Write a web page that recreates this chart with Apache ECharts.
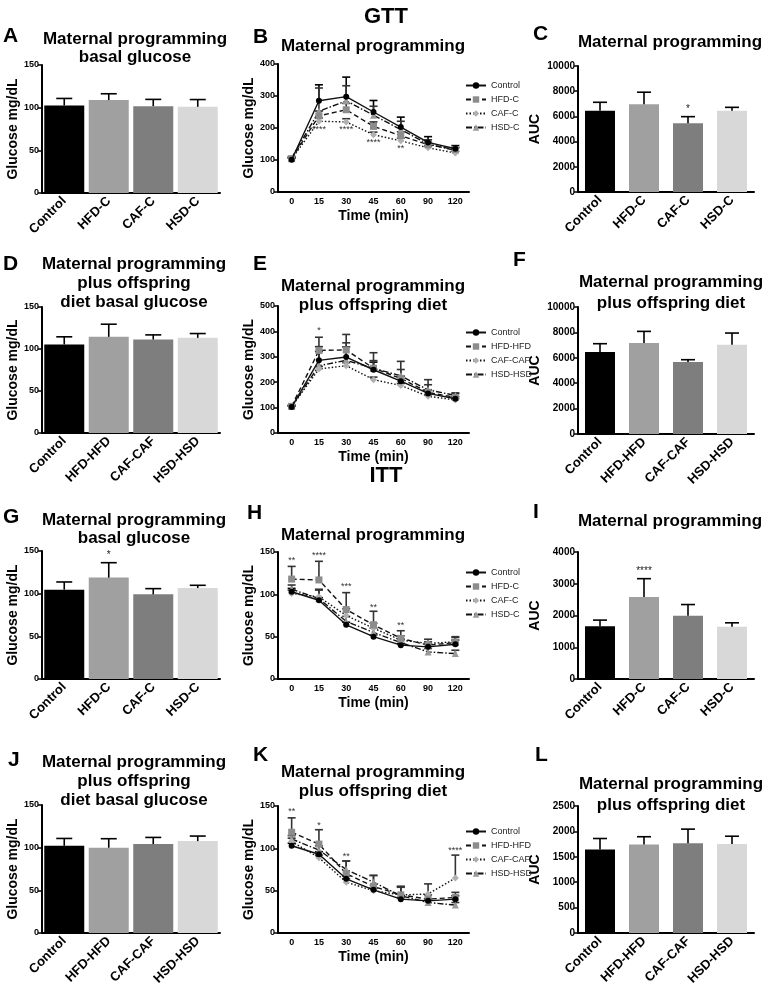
<!DOCTYPE html>
<html>
<head>
<meta charset="utf-8">
<script src="https://cdn.jsdelivr.net/npm/echarts@6/dist/echarts.min.js"></script>
<style>
  html, body { margin: 0; padding: 0; background: #fff; }
  #chart { width: 772px; height: 992px; }
</style>
</head>
<body>
<div id="chart"></div>
<script>
// ---- categories ----
const groupsC = ['Control', 'HFD-C', 'CAF-C', 'HSD-C'];
const groupsD = ['Control', 'HFD-HFD', 'CAF-CAF', 'HSD-HSD'];
const times = ['0', '15', '30', '45', '60', '90', '120'];

// ---- GTT: basal glucose (A, D) and AUC (C, F) ----
const aMean = [102.6, 108.9, 101.8, 101.0];
const aSd = [8.2, 7.4, 7.9, 8.5];
const aStars = ['', '', '', ''];
const dMean = [105.4, 114.5, 111.3, 113.3];
const dSd = [9.1, 15.0, 5.5, 5.1];
const dStars = ['', '', '', ''];
const cMean = [6450, 6960, 5450, 6450];
const cSd = [670, 960, 530, 270];
const cStars = ['', '', '*', ''];
const fMean = [6450, 7160, 5670, 7030];
const fSd = [660, 920, 180, 920];
const fStars = ['', '', '', ''];

// ---- GTT curves (B, E) ----
const bControl = [101, 285, 298, 250, 203, 155, 135];
const bHfd = [104, 238, 257, 205, 176, 148, 133];
const bCaf = [103, 221, 219, 179, 160, 138, 122];
const bHsd = [106, 252, 285, 240, 195, 150, 130];
const bControlSd = [5, 50, 61, 36, 31, 18, 10];
const bHfdSd = [4, 15, 20, 14, 12, 8, 6];
const bCafSd = [4, 10, 10, 8, 8, 6, 5];
const bHsdSd = [5, 73, 47, 28, 26, 13, 8];
const bStars = ['', '****', '****', '****', '**', '', ''];
const bStarAt = [0, 195, 195, 155, 137, 0, 0];

const eControl = [102, 286, 299, 249, 204, 156, 135];
const eHfd = [105, 325, 327, 255, 215, 160, 140];
const eCaf = [103, 252, 265, 210, 187, 145, 130];
const eHsd = [104, 265, 286, 255, 225, 170, 148];
const eControlSd = [4, 35, 40, 30, 20, 14, 8];
const eHfdSd = [5, 52, 61, 61, 67, 50, 15];
const eCafSd = [3, 10, 12, 10, 8, 6, 5];
const eHsdSd = [4, 75, 69, 30, 25, 20, 10];
const eStars = ['', '*', '', '', '', '', ''];
const eStarAt = [0, 405, 0, 0, 0, 0, 0];

// ---- ITT: basal glucose (G, J) and AUC (I, L) ----
const gMean = [104.7, 118.8, 99.2, 106.6];
const gSd = [9.0, 17.5, 6.7, 3.2];
const gStars = ['', '*', '', ''];
const jMean = [102.2, 99.9, 104.2, 107.7];
const jSd = [8.6, 10.6, 7.8, 5.9];
const jStars = ['', '', '', ''];
const iMean = [1665, 2585, 1990, 1645];
const iSd = [190, 575, 355, 125];
const iStars = ['', '****', '', ''];
const lMean = [1645, 1740, 1765, 1750];
const lSd = [215, 155, 280, 155];
const lStars = ['', '', '', ''];

// ---- ITT curves (H, K) ----
const hControl = [103, 93, 64, 50, 40, 38, 41];
const hHfd = [118, 117, 82, 64, 48, 40, 43];
const hCaf = [101, 97, 75, 60, 46, 42, 44];
const hHsd = [106, 95, 68, 55, 43, 32, 30];
const hControlSd = [4, 3, 3, 2, 2, 3, 5];
const hHfdSd = [15, 22, 20, 16, 9, 4, 7];
const hCafSd = [4, 8, 8, 6, 5, 5, 5];
const hHsdSd = [5, 11, 6, 5, 4, 4, 4];
const hStars = ['**', '****', '***', '**', '**', '', ''];
const hStarAt = [140, 146, 109, 85, 63, 0, 0];

const kControl = [103, 93, 64, 51, 40, 38, 40];
const kHfd = [119, 105, 70, 55, 45, 40, 42];
const kCaf = [108, 89, 60, 50, 45, 46, 65];
const kHsd = [111, 98, 75, 60, 44, 36, 33];
const kControlSd = [3, 3, 3, 2, 2, 2, 4];
const kHfdSd = [17, 17, 15, 13, 10, 5, 6];
const kCafSd = [4, 3, 4, 3, 10, 12, 27];
const kHsdSd = [4, 5, 10, 8, 10, 4, 3];
const kStars = ['**', '*', '**', '', '', '', '****'];
const kStarAt = [143, 127, 90, 0, 0, 0, 97];

// ---- styles ----
const FONT = '"Liberation Sans", Arial, sans-serif';
const barColors = ['#000000', '#a0a0a0', '#7e7e7e', '#d8d8d8'];
const markColors = ['#000000', '#8c8c8c', '#b0b0b0', '#9a9a9a'];
const lineTypes = ['solid', [5, 3], [1.5, 2], [6, 2, 1.5, 2]];
const symbols = ['circle', 'rect', 'diamond', 'triangle'];

const chart = echarts.init(document.getElementById('chart'));
const grids = [], xAxes = [], yAxes = [], series = [], legends = [], graphics = [];

function addAxes(p, cats, isLine) {
    const i = grids.length;
    grids.push(p.grid);
    xAxes.push({
        type: 'category', gridIndex: i, data: cats, boundaryGap: true,
        axisLine: { lineStyle: { color: '#000', width: 2 } },
        axisTick: { alignWithLabel: true, length: 4, lineStyle: { color: '#000', width: 1.5 } },
        axisLabel: isLine
            ? { fontSize: 9, fontWeight: 'bold', color: '#000', margin: 5, fontFamily: FONT }
            : { fontSize: 13, fontWeight: 'bold', color: '#000', margin: 6, rotate: 45, fontFamily: FONT },
        name: isLine ? 'Time (min)' : '', nameLocation: 'middle', nameGap: 17,
        nameTextStyle: { fontSize: 14, fontWeight: 'bold', color: '#000', fontFamily: FONT }
    });
    yAxes.push({
        type: 'value', gridIndex: i, min: 0, max: p.max, interval: p.step,
        splitLine: { show: false },
        axisLine: { show: true, lineStyle: { color: '#000', width: 2 } },
        axisTick: { show: true, length: 4, lineStyle: { color: '#000', width: 1.5 } },
        axisLabel: { fontSize: p.tick, fontWeight: 'bold', color: '#000', margin: 3, fontFamily: FONT,
                     formatter: v => String(v) },
        name: p.yName, nameLocation: 'middle', nameGap: p.nameGap,
        nameTextStyle: { fontSize: 14, fontWeight: 'bold', color: '#000', fontFamily: FONT }
    });
    return i;
}

// error bars (mean -> mean + SD with cap) through the axes' own coordinates
function errorSeries(i, mean, sd, color, cap, stars) {
    return {
        type: 'custom', xAxisIndex: i, yAxisIndex: i, silent: true, z: 4,
        data: mean.map((m, k) => [k, m, m + sd[k]]),
        renderItem: (params, api) => {
            const base = api.coord([api.value(0), api.value(1)]);
            const top = api.coord([api.value(0), api.value(2)]);
            const kids = [
                { type: 'line', shape: { x1: base[0], y1: base[1], x2: top[0], y2: top[1] }, style: { stroke: color, lineWidth: 1.6 } },
                { type: 'line', shape: { x1: top[0] - cap / 2, y1: top[1], x2: top[0] + cap / 2, y2: top[1] }, style: { stroke: color, lineWidth: 1.6 } }
            ];
            const s = stars && stars[params.dataIndex];
            if (s) kids.push({ type: 'text', x: top[0], y: top[1] - 2,
                style: { text: s, fill: '#222', fontSize: 10, fontFamily: FONT, align: 'center', verticalAlign: 'bottom' } });
            return { type: 'group', children: kids };
        }
    };
}

function starSeries(i, stars, at) {
    return {
        type: 'custom', xAxisIndex: i, yAxisIndex: i, silent: true, z: 6,
        data: stars.map((s, k) => [k, at[k]]).filter((d, k) => stars[k]),
        renderItem: (params, api) => {
            const pt = api.coord([api.value(0), api.value(1)]);
            const k = api.value(0);
            return { type: 'text', x: pt[0], y: pt[1],
                style: { text: stars[k], fill: '#333', fontSize: 9, fontFamily: FONT, align: 'center', verticalAlign: 'middle' } };
        }
    };
}

const barPanels = [
    { cats: groupsC, mean: aMean, sd: aSd, stars: aStars, max: 150, step: 50, yName: 'Glucose mg/dL', nameGap: 22, tick: 9, barWidth: 40, cap: 16, grid: { left: 42, top: 65, width: 178, height: 128 } },
    { cats: groupsD, mean: dMean, sd: dSd, stars: dStars, max: 150, step: 50, yName: 'Glucose mg/dL', nameGap: 22, tick: 9, barWidth: 40, cap: 16, grid: { left: 42, top: 307, width: 178, height: 126 } },
    { cats: groupsC, mean: gMean, sd: gSd, stars: gStars, max: 150, step: 50, yName: 'Glucose mg/dL', nameGap: 22, tick: 9, barWidth: 40, cap: 16, grid: { left: 42, top: 551, width: 178, height: 128 } },
    { cats: groupsD, mean: jMean, sd: jSd, stars: jStars, max: 150, step: 50, yName: 'Glucose mg/dL', nameGap: 22, tick: 9, barWidth: 40, cap: 16, grid: { left: 42, top: 805, width: 178, height: 128 } },
    { cats: groupsC, mean: cMean, sd: cSd, stars: cStars, max: 10000, step: 2000, yName: 'AUC', nameGap: 36, tick: 10, barWidth: 30, cap: 14, grid: { left: 578, top: 66, width: 176, height: 126 } },
    { cats: groupsD, mean: fMean, sd: fSd, stars: fStars, max: 10000, step: 2000, yName: 'AUC', nameGap: 36, tick: 10, barWidth: 30, cap: 14, grid: { left: 578, top: 307, width: 176, height: 127 } },
    { cats: groupsC, mean: iMean, sd: iSd, stars: iStars, max: 4000, step: 1000, yName: 'AUC', nameGap: 36, tick: 10, barWidth: 30, cap: 14, grid: { left: 578, top: 552, width: 176, height: 127 } },
    { cats: groupsD, mean: lMean, sd: lSd, stars: lStars, max: 2500, step: 500, yName: 'AUC', nameGap: 36, tick: 10, barWidth: 30, cap: 14, grid: { left: 578, top: 806, width: 176, height: 127 } }
];

const linePanels = [
    { groups: groupsC, means: [bControl, bHfd, bCaf, bHsd], sds: [bControlSd, bHfdSd, bCafSd, bHsdSd], stars: bStars, starAt: bStarAt, max: 400, step: 100, legendTop: 76, grid: { left: 278, top: 64, width: 191, height: 128 } },
    { groups: groupsD, means: [eControl, eHfd, eCaf, eHsd], sds: [eControlSd, eHfdSd, eCafSd, eHsdSd], stars: eStars, starAt: eStarAt, max: 500, step: 100, legendTop: 323, grid: { left: 278, top: 306, width: 191, height: 127 } },
    { groups: groupsC, means: [hControl, hHfd, hCaf, hHsd], sds: [hControlSd, hHfdSd, hCafSd, hHsdSd], stars: hStars, starAt: hStarAt, max: 150, step: 50, legendTop: 563, grid: { left: 278, top: 552, width: 191, height: 127 } },
    { groups: groupsD, means: [kControl, kHfd, kCaf, kHsd], sds: [kControlSd, kHfdSd, kCafSd, kHsdSd], stars: kStars, starAt: kStarAt, max: 150, step: 50, legendTop: 822, grid: { left: 278, top: 806, width: 191, height: 127 } }
];

barPanels.forEach(p => {
    const i = addAxes(p, p.cats, false);
    series.push({
        type: 'bar', xAxisIndex: i, yAxisIndex: i, barWidth: p.barWidth, silent: true, z: 2,
        data: p.mean.map((v, k) => ({ value: v, itemStyle: { color: barColors[k] } }))
    });
    series.push(errorSeries(i, p.mean, p.sd, '#000', p.cap, p.stars));
});

linePanels.forEach(p => {
    const i = addAxes(Object.assign({ yName: 'Glucose mg/dL', nameGap: 20, tick: 9 }, p), times, true);
    p.groups.forEach((g, k) => {
        series.push({
            type: 'line', name: g, xAxisIndex: i, yAxisIndex: i, data: p.means[k],
            symbol: symbols[k], symbolSize: k === 0 ? 6 : 7, z: 5 - k / 10,
            lineStyle: { color: '#111', width: 1.4, type: lineTypes[k] },
            itemStyle: { color: markColors[k] }
        });
        series.push(errorSeries(i, p.means[k], p.sds[k], k === 0 ? '#000' : '#333', 8, null));
    });
    series.push(starSeries(i, p.stars, p.starAt));
    legends.push({
        data: p.groups, orient: 'vertical', left: 460, top: p.legendTop, selectedMode: false,
        itemWidth: 20, itemHeight: 8, itemGap: 5,
        textStyle: { fontSize: 9, color: '#222', fontFamily: FONT }
    });
});

// headings, panel letters and panel titles
function txt(x, y, text, size, align, lh) {
    graphics.push({ type: 'text', x: x, y: y, silent: true,
        style: { text: text, fill: '#000', fontSize: size, fontWeight: 'bold', fontFamily: FONT,
                 align: align || 'center', verticalAlign: 'middle', lineHeight: lh || size + 2 } });
}
txt(386, 17, 'GTT', 22);
txt(386, 476, 'ITT', 22);

txt(3, 36, 'A', 21, 'left');   txt(135, 48.5, 'Maternal programming\nbasal glucose', 17, 'center', 17.5);
txt(253, 37, 'B', 21, 'left'); txt(373, 46, 'Maternal programming', 17);
txt(533, 34, 'C', 21, 'left'); txt(670, 42, 'Maternal programming', 17);

txt(3, 264, 'D', 21, 'left');  txt(134, 283, 'Maternal programming\nplus offspring\ndiet basal glucose', 17, 'center', 19);
txt(253, 264, 'E', 21, 'left'); txt(373, 295.5, 'Maternal programming\nplus offspring diet', 17, 'center', 19);
txt(513, 260, 'F', 21, 'left'); txt(671, 292.5, 'Maternal programming\nplus offspring diet', 17, 'center', 21);

txt(3, 517, 'G', 21, 'left');  txt(134, 529, 'Maternal programming\nbasal glucose', 17, 'center', 18);
txt(247, 513, 'H', 21, 'left'); txt(373, 535, 'Maternal programming', 17);
txt(533, 512, 'I', 21, 'left'); txt(670, 521, 'Maternal programming', 17);

txt(8, 760, 'J', 21, 'left');  txt(134, 781, 'Maternal programming\nplus offspring\ndiet basal glucose', 17, 'center', 19);
txt(253, 755, 'K', 21, 'left'); txt(373, 781.5, 'Maternal programming\nplus offspring diet', 17, 'center', 19);
txt(535, 755, 'L', 21, 'left'); txt(671, 794.5, 'Maternal programming\nplus offspring diet', 17, 'center', 21);

chart.setOption({
    animation: false,
    textStyle: { fontFamily: FONT },
    grid: grids, xAxis: xAxes, yAxis: yAxes,
    legend: legends, series: series, graphic: graphics
});
</script>
</body>
</html>
